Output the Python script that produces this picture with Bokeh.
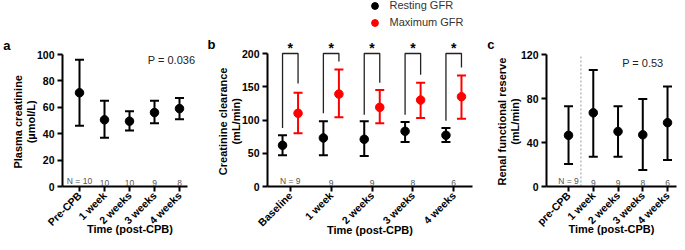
from math import pi
from bokeh.plotting import figure
from bokeh.layouts import row
from bokeh.models import (ColumnDataSource, Whisker, TeeHead, FixedTicker, Range1d,
                          Label, LabelSet, Legend, LegendItem, LinearAxis)
from bokeh.core.properties import value
from bokeh.embed import file_html
from bokeh.resources import INLINE

# ---------------- data ----------------
# panel a: plasma creatinine
a_cats = ["Pre-CPB", "1 week", "2 weeks", "3 weeks", "4 weeks"]
a_mean = [71, 50.5, 49.5, 56, 59]
a_low = [46, 37, 42.5, 48, 51]
a_high = [96, 65, 57, 65, 67]
a_yticks = [0, 20, 40, 60, 80, 100]
a_ytitle = ["Plasma creatinine", "(µmol/L)"]
a_n = ["N = 10", "10", "10", "9", "8"]
a_p = "P = 0.036"

# panel b: creatinine clearance
b_cats = ["Baseline", "1 week", "2 weeks", "3 weeks", "4 weeks"]
b_series = ["Resting GFR", "Maximum GFR"]
b_rest_mean = [62, 73, 71, 83, 77]
b_rest_low = [47, 47, 46, 67, 67]
b_rest_high = [77, 98, 98, 97, 88]
b_max_mean = [110, 139, 119, 130, 135]
b_max_low = [80, 104, 95, 103, 102]
b_max_high = [141, 176, 145, 156, 167]
b_yticks = [0, 50, 100, 150, 200]
b_ytitle = ["Creatinine clearance", "(mL/min)"]
b_n = ["N = 9", "9", "9", "8", "6"]
b_sig = ["*", "*", "*", "*", "*"]
b_bracket_top = [200, 200, 200, 200, 200]
b_bracket_left = [88, 110, 108, 108, 99]
b_bracket_right = [155, 188, 156, 168, 179]

# panel c: renal functional reserve
c_cats = ["pre-CPB", "1 week", "2 weeks", "3 weeks", "4 weeks"]
c_mean = [46.5, 67, 50, 47, 58]
c_low = [20.5, 27, 27, 15, 24]
c_high = [73, 106, 73, 79.5, 91]
c_yticks = [0, 40, 80, 120]
c_ytitle = ["Renal functional reserve", "(mL/min)"]
c_n = ["N = 9", "9", "9", "8", "6"]
c_p = "P = 0.53"

xtitle = "Time (post-CPB)"
FONT = "Liberation Sans"
BLACK = "#000000"
RED = "#ff0000"
H = 242       # figure height
FB = 186      # frame height (frame from top of canvas to the x axis)
TITLE_Y = 121    # canvas y of the y-axis title centre
LETTER_Y = 44.5  # canvas y of the panel letter centre


def make_fig(width, xr, ppu, mbl, mbr):
    p = figure(width=width, height=H,
               x_range=Range1d(*xr), y_range=Range1d(0, FB / ppu),
               min_border_left=mbl, min_border_right=mbr,
               min_border_top=0, min_border_bottom=H - FB,
               output_backend="svg", toolbar_location=None, tools="")
    p.outline_line_color = None
    p.grid.visible = False
    for ax in (p.xaxis[0], p.yaxis[0]):
        ax.axis_line_width = 2
        ax.major_tick_line_width = 2
        ax.major_tick_out = 5
        ax.major_tick_in = 0
        ax.minor_tick_line_color = None
        ax.major_label_text_font = FONT
        ax.major_label_text_font_style = "bold"
        ax.major_label_text_color = "#000000"
        ax.major_label_text_font_size = "10.5px"
        ax.axis_label_text_font = FONT
        ax.axis_label_text_font_style = "bold"
        ax.axis_label_text_font_size = "11px"
        ax.axis_label_text_color = "#000000"
        ax.major_label_standoff = 3
    p.xaxis[0].major_label_standoff = 2
    p.xaxis[0].axis_label_standoff = -12
    return p


def text_axis(p, pos, text, size, orient, standoff):
    ax = LinearAxis(ticker=FixedTicker(ticks=[pos]),
                    major_label_overrides={pos: text},
                    axis_line_color=None, major_tick_line_color=None,
                    minor_tick_line_color=None, major_tick_out=0, major_tick_in=0,
                    major_label_standoff=standoff, major_label_orientation=orient,
                    major_label_text_font=FONT, major_label_text_font_style="bold",
                    major_label_text_font_size=size, major_label_text_color="#000000")
    p.add_layout(ax, "left")


def style_axes(p, cats, xbounds, yticks, ytitle, letter, ppu):
    ax = p.xaxis[0]
    ax.ticker = FixedTicker(ticks=list(range(len(cats))))
    ax.major_label_overrides = {i: c for i, c in enumerate(cats)}
    ax.major_label_orientation = pi / 4
    ax.axis_label = xtitle
    ax.bounds = xbounds
    ay = p.yaxis[0]
    ay.ticker = FixedTicker(ticks=yticks)
    ay.bounds = (yticks[0], yticks[-1])
    # y title (two lines) and panel letter as outer left axes
    t_pos = int(round((FB - TITLE_Y) / ppu))
    l_pos = int(round((FB - LETTER_Y) / ppu))
    text_axis(p, t_pos, ytitle[1], "11px", "parallel", -4)
    text_axis(p, t_pos, ytitle[0], "11px", "parallel", -2)
    text_axis(p, l_pos, letter, "13px", "horizontal", -1)


def add_errbars(p, xs, mean, low, high, color):
    src = ColumnDataSource(dict(x=xs, mean=mean, low=low, high=high))
    p.add_layout(Whisker(source=src, base="x", upper="high", lower="low",
                         line_color=color, line_width=2,
                         upper_head=TeeHead(size=9, line_width=2, line_color=color),
                         lower_head=TeeHead(size=9, line_width=2, line_color=color)))
    return p.scatter(x="x", y="mean", source=src, size=8.5, color=color)


def add_n(p, labels):
    src = ColumnDataSource(dict(x=list(range(len(labels))), y=[0] * len(labels), t=labels))
    p.add_layout(LabelSet(source=src, x="x", y="y", text="t", y_offset=1,
                          text_align="center", text_baseline="bottom",
                          text_font=value(FONT), text_font_size=value("8.5px"),
                          text_color="#555555"))


# ---------------- panel a ----------------
a_x0, a_ppu = -0.68, 1.32
pa = make_fig(62 + 135 + 7, (a_x0, a_x0 + 135 / 25), a_ppu, 62, 7)
style_axes(pa, a_cats, (a_x0, 4.32), a_yticks, a_ytitle, "a", a_ppu)
add_errbars(pa, list(range(5)), a_mean, a_low, a_high, BLACK)
add_n(pa, a_n)
pa.add_layout(Label(x=3.68, y=96, text=a_p, text_align="center", text_baseline="middle",
                    text_font=FONT, text_font_size="11px", text_color="#222222"))

# ---------------- panel b ----------------
b_x0, b_ppu = -0.558, 0.665
pb = make_fig(61 + 207 + 6, (b_x0, 4.46), b_ppu, 61, 6)
style_axes(pb, b_cats, (b_x0, 4.46), b_yticks, b_ytitle, "b", b_ppu)
off = 0.19
xl = [i - off for i in range(5)]
xr = [i + off for i in range(5)]
br_xs = [[xl[i], xl[i], xr[i], xr[i]] for i in range(5)]
br_ys = [[b_bracket_left[i], b_bracket_top[i], b_bracket_top[i], b_bracket_right[i]] for i in range(5)]
pb.multi_line(xs=br_xs, ys=br_ys, line_color="#222222", line_width=1.3)
r_rest = add_errbars(pb, xl, b_rest_mean, b_rest_low, b_rest_high, BLACK)
r_max = add_errbars(pb, xr, b_max_mean, b_max_low, b_max_high, RED)
sig_src = ColumnDataSource(dict(x=list(range(5)), y=b_bracket_top, t=b_sig))
pb.add_layout(LabelSet(source=sig_src, x="x", y="y", text="t", y_offset=1,
                       text_align="center", text_baseline="alphabetic",
                       text_font=value(FONT), text_font_style=value("bold"),
                       text_font_size=value("14px"), text_color="#000000"))
add_n(pb, b_n)
legend = Legend(items=[LegendItem(label=b_series[0], renderers=[r_rest]),
                       LegendItem(label=b_series[1], renderers=[r_max])],
                location=(98.5, 155.5), orientation="vertical",
                glyph_width=17, glyph_height=17, label_height=17, label_standoff=7,
                spacing=0, padding=0, margin=0, border_line_color=None,
                background_fill_alpha=0, label_text_font=FONT,
                label_text_font_size="11px", label_text_color="#333333")
pb.add_layout(legend)

# ---------------- panel c ----------------
c_x0, c_ppu = -0.89, 1.1
pc = make_fig(68 + 130 + 1, (c_x0, c_x0 + 130 / 24.75), c_ppu, 68, 1)
style_axes(pc, c_cats, (c_x0, c_x0 + 130 / 24.75), c_yticks, c_ytitle, "c", c_ppu)
pc.segment(x0=[0.5], y0=[c_yticks[0]], x1=[0.5], y1=[c_yticks[-1]],
           line_color="#9a9a9a", line_dash="2 2", line_width=1)
add_errbars(pc, list(range(5)), c_mean, c_low, c_high, BLACK)
add_n(pc, c_n)
pc.add_layout(Label(x=3.0, y=112, text=c_p, text_align="center", text_baseline="middle",
                    text_font=FONT, text_font_size="11px", text_color="#222222"))

layout = row(pa, pb, pc)
open("out.html", "w").write(file_html(layout, INLINE))
